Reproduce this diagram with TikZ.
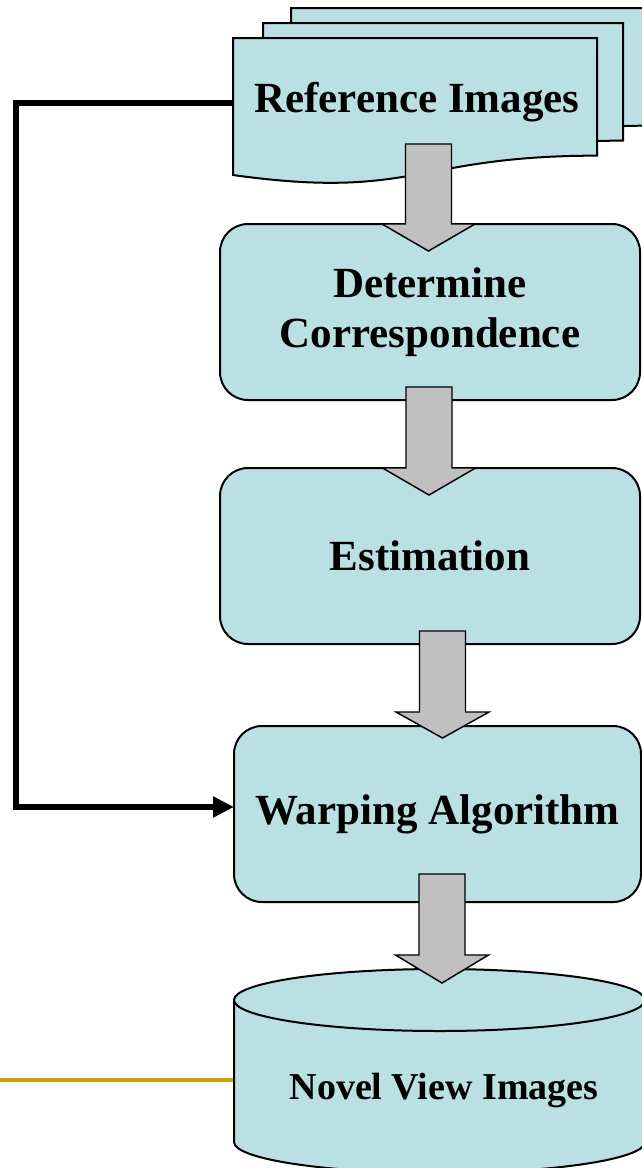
\documentclass[tikz,border=0pt]{standalone}
\usepackage{fontspec}
\setmainfont{Liberation Serif}
\usetikzlibrary{arrows.meta}

\definecolor{boxfill}{RGB}{187,224,227}
\definecolor{arrowgray}{RGB}{192,192,192}
\definecolor{accentgold}{RGB}{209,160,12}

\tikzset{
  stepbox/.style={draw=black, line width=1.5pt, fill=boxfill, rounded corners=21pt,
    minimum height=132pt, inner sep=0pt, align=center,
    font=\bfseries\fontsize{32.25pt}{37.5pt}\selectfont},
  outlined/.style={draw=black, line width=1.5pt, fill=boxfill, line join=miter},
  blockarrow/.style={draw=black, line width=1.1pt, fill=arrowgray, line join=miter},
  feedback/.style={draw=black, line width=4.5pt, line join=miter},
  bigtext/.style={inner sep=0pt, font=\bfseries\fontsize{32.25pt}{37.5pt}\selectfont},
  smalltext/.style={inner sep=0pt, font=\bfseries\fontsize{28.5pt}{33pt}\selectfont},
}

% page with a wavy bottom edge: x0, y0, width, height
\newcommand{\docpage}[4]{%
  \draw[outlined] (#1,#2) -- ({#1+#3},#2) -- ({#1+#3},{#2+0.802*#4})
    .. controls ({#1+0.5*#3},{#2+0.802*#4}) and ({#1+0.5*#3},{#2+1.107*#4}) ..
    (#1,{#2+0.934*#4}) -- cycle;}

% grey block arrow pointing down: centre x, top, head base, tip
\newcommand{\flowarrow}[4]{%
  \draw[blockarrow] ({#1-23},#2) -- ({#1+23},#2) -- ({#1+23},#3) -- ({#1+46.5},#3)
    -- (#1,#4) -- ({#1-46.5},#3) -- ({#1-23},#3) -- cycle;}

\begin{document}
\begin{tikzpicture}[x=0.75pt, y=-0.75pt]
  \useasboundingbox (0,0) rectangle (642,1168);
  \clip (0,0) rectangle (642,1168);

  % stack of reference pages
  \docpage{291}{8}{360}{146.7}
  \docpage{263}{23}{360}{146.7}
  \docpage{233}{38}{364}{146.7}
  \node[bigtext, anchor=base] (refimg) at (417,112) {Reference Images};
  \coordinate (refdoc-w) at (233,103);

  % processing steps
  \node[stepbox, minimum width=315pt] (corr) at (430,312) {Determine\\Correspondence};
  \node[stepbox, minimum width=315pt] (est) at (430,556) {Estimation};
  \node[stepbox, minimum width=305.25pt] (warp) at (437.5,814) {Warping Algorithm};
  \coordinate (warp-in) at (234,807);

  % output store
  \draw[accentgold, line width=3pt] (0,1080) -- (234,1080);
  \draw[outlined] (234,1000) -- (234,1142)
    arc[start angle=180, end angle=0, x radius=205.5, y radius=31]
    -- (645,1000) -- cycle;
  \draw[outlined] (439.5,1000) ellipse[x radius=205.5, y radius=31];
  \node[smalltext, anchor=base] (novel) at (444,1099) {Novel View Images};

  % flow arrows
  \flowarrow{428.5}{144}{224}{251}
  \flowarrow{429}{387}{468}{495}
  \flowarrow{442.5}{631}{712}{738}
  \flowarrow{442}{874}{955}{983}

  % reference images feed the warping step directly
  \draw[feedback, -{Triangle[length=15.75pt, width=15pt]}]
    (refdoc-w) -- (16,103) -- (16,807) -- (warp-in);
\end{tikzpicture}
\end{document}
